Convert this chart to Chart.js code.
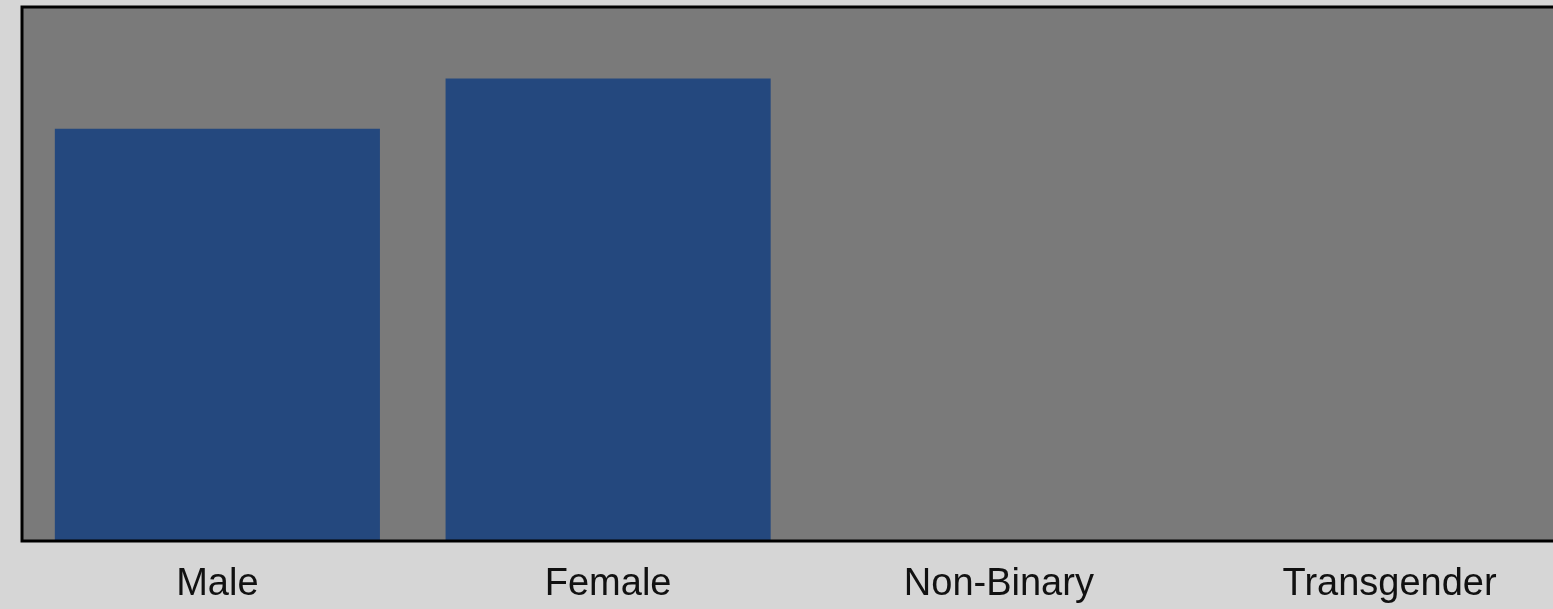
<!DOCTYPE html>
<html>
<head>
<meta charset="utf-8">
<script src="https://cdn.jsdelivr.net/npm/chart.js@4/dist/chart.umd.min.js"></script>
<style>
  html, body { margin: 0; padding: 0; background: #d6d6d6; overflow: hidden; }
  canvas { display: block; }
</style>
</head>
<body>
<canvas id="genderChart" width="1600" height="609"></canvas>
<script>
// Data kategori gender
const categories = ['Male', 'Female', 'Non-Binary', 'Transgender'];
const counts = [77.2, 86.6, 0, 0];
const axisMax = 100;

// Plugin: latar area plot + garis tepi hitam
const plotFrame = {
    id: 'plotFrame',
    beforeDraw(chart) {
        const { ctx, chartArea: a } = chart;
        ctx.save();
        ctx.fillStyle = '#7a7a7a';
        ctx.fillRect(a.left, a.top, a.right - a.left, a.bottom - a.top);
        ctx.restore();
    },
    afterDatasetsDraw(chart) {
        const { ctx, chartArea: a } = chart;
        ctx.save();
        ctx.strokeStyle = '#000';
        ctx.lineWidth = 3;
        ctx.strokeRect(a.left, a.top, a.right - a.left, a.bottom - a.top);
        ctx.restore();
    }
};

const ctx = document.getElementById('genderChart').getContext('2d');
const genderChart = new Chart(ctx, {
    type: 'bar',
    data: {
        labels: categories,
        datasets: [{
            data: counts,
            backgroundColor: '#24487e',
            borderWidth: 0,
            barPercentage: 0.832,
            categoryPercentage: 1
        }]
    },
    options: {
        responsive: false,
        animation: false,
        layout: { padding: { left: 22, top: 7, right: 15, bottom: 0 } },
        plugins: {
            legend: { display: false },
            tooltip: { enabled: false }
        },
        scales: {
            x: {
                grid: { display: false, drawTicks: false },
                border: { display: false },
                afterFit(scale) { scale.height = 68; },
                ticks: {
                    color: '#111',
                    padding: 25,
                    font: { family: 'Liberation Sans, Arial, sans-serif', size: 38, lineHeight: 1 }
                }
            },
            y: {
                display: false,
                min: 0,
                max: axisMax
            }
        }
    },
    plugins: [plotFrame]
});
</script>
</body>
</html>
